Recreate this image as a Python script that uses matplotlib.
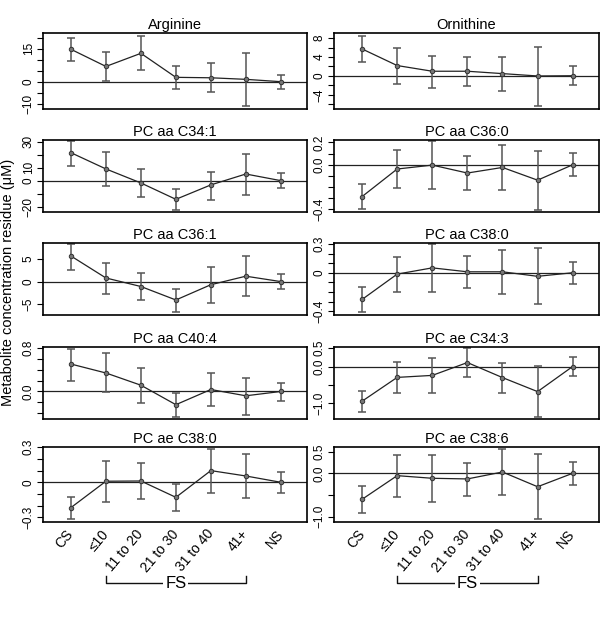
import numpy as np
import matplotlib
matplotlib.use('Agg')
import matplotlib.pyplot as plt
from matplotlib.transforms import blended_transform_factory

plt.rcParams['font.family'] = ['Liberation Sans', 'DejaVu Sans']

groups = ["CS", "\u226410", "11 to 20", "21 to 30", "31 to 40", "41+", "NS"]

titles = ["Arginine", "Ornithine", "PC aa C34:1", "PC aa C36:0", "PC aa C36:1",
          "PC aa C38:0", "PC aa C40:4", "PC ae C34:3", "PC ae C38:0", "PC ae C38:6"]

# residue means and error bar ends, one list per metabolite (order of groups)
means = [
    [14.7, 7.0, 12.9, 2.1, 1.9, 1.2, 0.15],
    [5.7, 2.2, 1.0, 1.0, 0.5, 0.0, 0.05],
    [21.5, 9.0, -1.8, -14.4, -3.3, 5.1, 0.0],
    [-0.285, -0.038, -0.003, -0.074, -0.024, -0.138, 0.0],
    [5.7, 0.8, -1.1, -4.1, -0.7, 1.2, 0.0],
    [-0.278, -0.014, 0.051, 0.010, 0.010, -0.037, 0.0],
    [0.503, 0.339, 0.115, -0.242, 0.036, -0.079, 0.0],
    [-0.94, -0.295, -0.241, 0.107, -0.30, -0.68, 0.0],
    [-0.217, 0.009, 0.011, -0.129, 0.10, 0.054, 0.0],
    [-0.60, -0.054, -0.115, -0.13, 0.03, -0.31, 0.0],
]
uppers = [
    [19.6, 13.6, 20.5, 7.3, 8.4, 13.2, 3.3],
    [8.4, 6.0, 4.3, 3.9, 3.9, 6.2, 2.0],
    [30.8, 21.8, 8.7, -6.4, 6.9, 20.8, 6.2],
    [-0.176, 0.132, 0.212, 0.082, 0.179, 0.126, 0.103],
    [8.3, 4.2, 1.9, -1.6, 3.2, 5.7, 1.7],
    [-0.153, 0.163, 0.295, 0.173, 0.234, 0.254, 0.112],
    [0.78, 0.70, 0.436, -0.036, 0.339, 0.255, 0.164],
    [-0.66, 0.125, 0.232, 0.49, 0.098, 0.027, 0.25],
    [-0.123, 0.183, 0.163, -0.014, 0.283, 0.24, 0.089],
    [-0.29, 0.42, 0.42, 0.246, 0.554, 0.44, 0.27],
]
lowers = [
    [9.4, 0.3, 5.2, -3.2, -4.5, -10.8, -3.3],
    [2.95, -1.6, -2.5, -2.1, -3.1, -6.3, -1.9],
    [11.5, -4.4, -12.8, -22.6, -14.6, -10.8, -5.9],
    [-0.397, -0.209, -0.221, -0.229, -0.229, -0.403, -0.103],
    [2.6, -2.8, -4.2, -6.7, -4.7, -3.2, -1.7],
    [-0.407, -0.197, -0.197, -0.156, -0.22, -0.329, -0.112],
    [0.2, -0.018, -0.218, -0.46, -0.26, -0.424, -0.176],
    [-1.22, -0.714, -0.714, -0.286, -0.714, -1.36, -0.27],
    [-0.314, -0.166, -0.143, -0.246, -0.089, -0.137, -0.089],
    [-0.91, -0.55, -0.66, -0.52, -0.49, -1.06, -0.26],
]

ylims = [(-12.0, 21.9), (-6.9, 9.0), (-24.4, 31.3), (-0.426, 0.222), (-7.45, 8.6),
         (-0.44, 0.31), (-0.51, 0.81), (-1.43, 0.52), (-0.338, 0.305), (-1.117, 0.614)]

yticks = [
    [-10, -5, 0, 5, 10, 15, 20],
    [-6, -4, -2, 0, 2, 4, 6, 8],
    [-20, -10, 0, 10, 20, 30],
    [-0.4, -0.3, -0.2, -0.1, 0.0, 0.1, 0.2],
    [-5, 0, 5],
    [-0.4, -0.3, -0.2, -0.1, 0.0, 0.1, 0.2, 0.3],
    [-0.4, -0.2, 0.0, 0.2, 0.4, 0.6, 0.8],
    [-1.0, -0.5, 0.0, 0.5],
    [-0.3, -0.2, -0.1, 0.0, 0.1, 0.2, 0.3],
    [-1.0, -0.5, 0.0, 0.5],
]
ytick_labels = [
    ["\u221210", "", "0", "", "", "15", ""],
    ["", "\u22124", "", "0", "", "4", "", "8"],
    ["\u221220", "", "0", "10", "", "30"],
    ["\u22120.4", "", "", "", "0.0", "", "0.2"],
    ["\u22125", "0", "5"],
    ["\u22120.4", "", "", "", "0", "", "", "0.3"],
    ["", "", "0.0", "", "", "", "0.8"],
    ["\u22121.0", "", "0.0", "0.5"],
    ["\u22120.3", "", "", "0", "", "", "0.3"],
    ["\u22121.0", "", "0.0", "0.5"],
]

W, H = 600, 623
col_px = [(43, 307), (334, 599)]
row_px = [(33.3, 108.7), (140, 212.3), (243, 315), (347.3, 419.3), (446.7, 521.7)]

fig = plt.figure(figsize=(6, 6.23), dpi=100)
x = np.arange(1, len(groups) + 1)

for i, title in enumerate(titles):
    r, c = divmod(i, 2)
    x0, x1 = col_px[c]
    y0, y1 = row_px[r]
    ax = fig.add_axes([x0 / W, 1 - y1 / H, (x1 - x0) / W, (y1 - y0) / H])

    m = np.array(means[i])
    lo = np.array(lowers[i])
    hi = np.array(uppers[i])

    ax.axhline(0, color='#222222', lw=0.9, zorder=1)
    ax.errorbar(x, m, yerr=[m - lo, hi - m], fmt='none', ecolor='#555555',
                elinewidth=1.1, capsize=2.6, capthick=1.1, zorder=2)
    ax.plot(x, m, color='#222222', lw=0.9, marker='o', ms=3.2,
            mfc='#777777', mec='#333333', mew=0.7, zorder=3)

    ax.set_xlim(0.2, 7.75)
    ax.set_ylim(*ylims[i])
    ax.set_yticks(yticks[i])
    ax.set_yticklabels(ytick_labels[i], rotation=90, va='center', fontsize=8.5)
    ax.tick_params(axis='y', length=4, width=0.8, pad=2)
    ax.set_xticks(x)
    ax.tick_params(axis='x', length=0)
    if r == 4:
        ax.set_xticklabels(groups, rotation=50, ha='right', va='center',
                           rotation_mode='anchor', fontsize=10)
        ax.tick_params(axis='x', pad=7)
        trans = blended_transform_factory(ax.transData, fig.transFigure)
        yb = 1 - 583 / H
        yt = 1 - 576 / H
        ax.plot([2, 2, 6, 6], [yt, yb, yb, yt], color='#111111', lw=1.0,
                transform=trans, clip_on=False)
        ax.text(4, yb, "FS", transform=trans, ha='center', va='center', fontsize=12,
                bbox=dict(facecolor='white', edgecolor='none', pad=1.5))
    else:
        ax.set_xticklabels([])
    ax.set_title(title, fontsize=10.5, pad=3)
    for s in ax.spines.values():
        s.set_linewidth(1.2)

fig.text(8 / W, 1 - 282 / H, "Metabolite concentration residue (\u03bcM)",
         rotation=90, ha='center', va='center', fontsize=10.5)

fig.savefig('out.png', dpi=100)
